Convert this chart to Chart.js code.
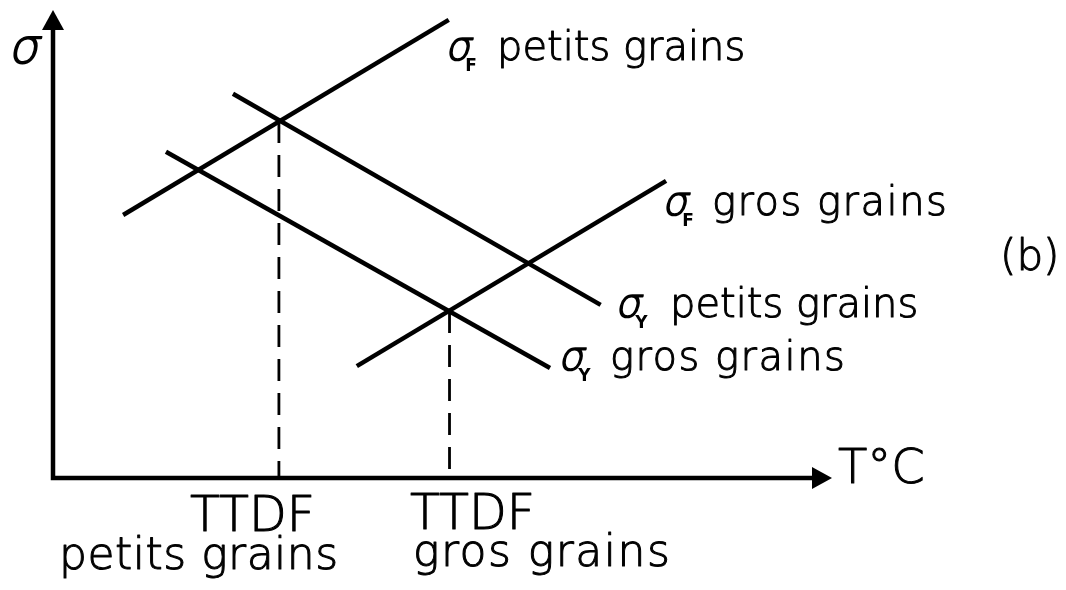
<!DOCTYPE html>
<html>
<head>
<meta charset="utf-8">
<script src="https://cdn.jsdelivr.net/npm/chart.js@4"></script>
<style>
  body { margin: 0; background: #fff; }
  #wrap { width: 1066px; height: 590px; position: relative; }
</style>
</head>
<body>
<div id="wrap"><canvas id="chart"></canvas></div>
<script>
// straight lines: sigma against temperature (arbitrary units, 0-100)
const lineNames = ["σF petits grains", "σY petits grains", "σY gros grains", "σF gros grains"];
const startT = [9.0, 23.1, 14.5, 39.0];
const startSigma = [56.2, 82.1, 69.7, 23.9];
const endT = [50.8, 70.3, 63.8, 78.7];
const endSigma = [97.9, 37.0, 23.5, 63.5];

// transition temperatures (crossing of sigmaF and sigmaY)
const ttdfNames = ["TTDF petits grains", "TTDF gros grains"];
const ttdfT = [29.0, 50.9];
const ttdfSigma = [76.3, 35.7];

const FONT = '"DejaVu Sans"';
const W = "200 "; // light strokes, like the hand lettering

const datasets = [];

lineNames.forEach((name, i) => {
  datasets.push({
    label: name,
    data: [
      { x: startT[i], y: startSigma[i] },
      { x: endT[i], y: endSigma[i] }
    ],
    showLine: true,
    borderColor: "#000",
    borderWidth: 4.5,
    pointRadius: 0
  });
});

ttdfNames.forEach((name, i) => {
  datasets.push({
    label: name,
    data: [
      { x: ttdfT[i], y: ttdfSigma[i] },
      { x: ttdfT[i], y: 0 }
    ],
    showLine: true,
    borderColor: "#000",
    borderWidth: 2.8,
    borderDash: [22, 12],
    pointRadius: 0
  });
});

// light text, thickened a little with an outline
function txt(ctx, s, x, y) {
  ctx.fillText(s, x, y);
  ctx.strokeText(s, x, y);
}

// slanted sigma from the light face
function sigma(ctx, x, y, size) {
  ctx.save();
  ctx.font = W + size + "px " + FONT;
  ctx.translate(x, y);
  ctx.transform(1, 0, -0.22, 1, 0, 0);
  ctx.lineWidth = 1.6;
  txt(ctx, "σ", 0, 0);
  const w = ctx.measureText("σ").width;
  ctx.restore();
  return w;
}

// sigma with a small subscript, then the words
function sigmaLabel(ctx, x, y, sub, words, wordsX, spacing) {
  ctx.letterSpacing = "0px";
  const w = sigma(ctx, x, y, 40);
  ctx.font = "bold 17px " + FONT;
  ctx.fillText(sub, x + w - 5, y + 11);
  ctx.font = W + "40px " + FONT;
  ctx.letterSpacing = spacing;
  txt(ctx, words, wordsX, y);
  ctx.letterSpacing = "0px";
}

const drawingPlugin = {
  id: "drawing",
  beforeDatasetsDraw(chart) {
    const ctx = chart.ctx;
    const a = chart.chartArea;
    ctx.save();
    ctx.strokeStyle = "#000";
    ctx.fillStyle = "#000";
    ctx.lineWidth = 4.5;
    ctx.lineCap = "square";

    // axes
    ctx.beginPath();
    ctx.moveTo(a.left, a.top + 10);
    ctx.lineTo(a.left, a.bottom);
    ctx.lineTo(a.right - 10, a.bottom);
    ctx.stroke();

    // arrow heads
    ctx.beginPath();
    ctx.moveTo(a.left, a.top);
    ctx.lineTo(a.left - 11, a.top + 20);
    ctx.lineTo(a.left + 11, a.top + 20);
    ctx.closePath();
    ctx.fill();

    ctx.beginPath();
    ctx.moveTo(a.right, a.bottom);
    ctx.lineTo(a.right - 20, a.bottom - 11);
    ctx.lineTo(a.right - 20, a.bottom + 11);
    ctx.closePath();
    ctx.fill();
    ctx.restore();
  },
  afterDraw(chart) {
    const ctx = chart.ctx;
    ctx.save();
    ctx.fillStyle = "#000";
    ctx.strokeStyle = "#000";
    ctx.lineWidth = 1;
    ctx.lineJoin = "round";
    ctx.textBaseline = "alphabetic";
    ctx.textAlign = "left";

    // axis titles
    sigma(ctx, 8, 63, 48);
    ctx.font = W + "48px " + FONT;
    txt(ctx, "T°C", 838, 483);

    // line labels
    sigmaLabel(ctx, 445, 60, "F", "petits grains", 497, "0px");
    sigmaLabel(ctx, 662, 215, "F", "gros grains", 712, "1.5px");
    sigmaLabel(ctx, 615, 317, "Y", "petits grains", 670, "0px");
    sigmaLabel(ctx, 558, 370, "Y", "gros grains", 610, "1.5px");

    // panel tag
    ctx.font = W + "42px " + FONT;
    txt(ctx, "(b)", 1000, 270);

    // TTDF labels under the axis
    ctx.font = W + "49px " + FONT;
    txt(ctx, "TTDF", 190, 531);
    txt(ctx, "TTDF", 410, 529);
    ctx.font = W + "44px " + FONT;
    ctx.letterSpacing = "0.5px";
    txt(ctx, "petits grains", 59, 569);
    ctx.letterSpacing = "1.5px";
    txt(ctx, "gros grains", 413, 566);
    ctx.restore();
  }
};

new Chart(document.getElementById("chart"), {
  type: "scatter",
  data: { datasets: datasets },
  options: {
    responsive: true,
    maintainAspectRatio: false,
    animation: false,
    layout: {
      padding: { left: 53, top: 10, right: 234, bottom: 112 }
    },
    scales: {
      x: { type: "linear", min: 0, max: 100, display: false },
      y: { type: "linear", min: 0, max: 100, display: false }
    },
    plugins: {
      legend: { display: false },
      tooltip: { enabled: false }
    }
  },
  plugins: [drawingPlugin]
});
</script>
</body>
</html>
